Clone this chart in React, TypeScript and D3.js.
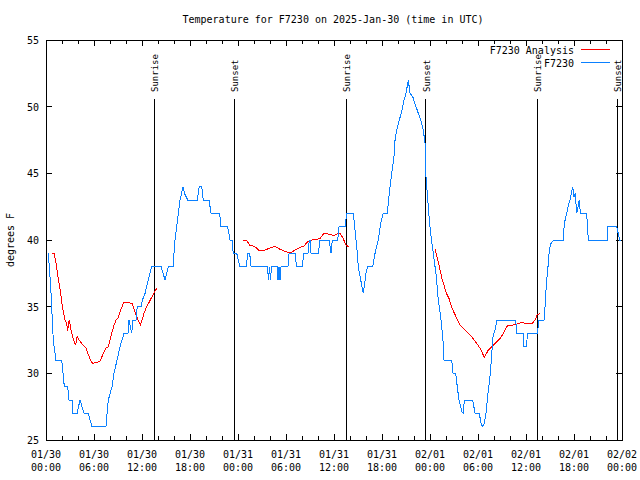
import React from "react";
import * as d3 from "d3";

// Hours since 2025-01-30 00:00 UTC
const obsHours = [0.29,0.41,0.59,0.71,0.91,1.13,1.19,1.96,2.13,2.29,2.71,2.88,3.25,3.34,3.88,4.25,4.75,5.29,5.5,5.75,7.5,7.63,7.79,8.25,8.5,8.88,9.25,9.75,10.25,10.38,10.54,10.71,10.88,11.25,11.41,11.88,12.06,12.38,12.79,13.21,14.38,14.88,15.29,15.88,16.0,16.13,16.34,16.54,16.75,17.13,17.31,17.71,18.91,19.16,19.46,19.66,20.38,20.63,21.71,21.88,22.71,23.0,23.25,23.41,23.84,24.25,25.09,25.16,25.46,25.63,27.69,27.81,27.94,28.06,28.19,28.88,29.0,29.13,29.25,29.38,30.25,30.38,31.13,31.31,32.0,32.25,32.75,32.91,33.0,33.13,34.04,34.25,35.41,35.63,35.79,36.46,36.63,37.38,37.59,38.41,38.84,39.04,39.34,39.66,40.0,40.21,40.84,41.13,41.54,41.84,42.16,42.66,42.91,43.21,43.5,43.63,43.84,44.16,44.46,44.75,45.0,45.29,45.5,45.84,46.25,46.54,46.84,47.16,47.38,47.46,47.5,47.66,47.79,47.91,48.13,48.41,48.63,48.84,48.96,49.13,49.34,49.5,49.66,49.75,50.71,50.88,51.21,51.46,51.63,51.84,52.0,52.16,52.29,53.34,53.63,54.16,54.38,54.54,54.79,55.0,55.25,55.46,55.63,55.75,55.88,56.13,56.38,58.71,58.84,59.66,59.75,60.09,60.16,61.41,61.63,62.25,62.38,62.5,62.63,62.79,62.91,63.13,63.5,64.66,64.79,65.09,65.29,65.5,65.71,65.84,66.0,66.16,66.34,66.66,66.79,67.59,67.66,67.79,70.16,70.25,71.34,71.71,71.88];
const obsTemps = [39,38,36.5,35,32.5,31.5,31,31,30,29,29,28,28,27,27,28,27,27,26.5,26,26,27,28,29,30,31,32,33,33,34,33.5,33,34,34,35,35,35.5,36,37,38,38,37,38,38,39,40,41,42,43,44,43.5,43,43,44,44,43,43,42,42,41,41,40,40,39,39,38,38,39,39,38,38,37,38,37,38,38,37,38,37,38,38,39,39,38,38,39,39,40,40,39,39,40,40,39,40,40,41,41,42,42,39.5,38,37,36,37.5,38,38,39,40,41.25,42,42,43.5,45,46.25,47.5,48.25,49,49.6,50.5,51,52,51,50.75,50,49.5,49,48.25,47.25,46,44.75,43.5,42.5,41.5,40.25,39,38,37,35.9,35.1,34.25,33.25,32.25,31,31,30,30,28.75,28,27.5,27.1,27,28,28,27,27,26.25,26,26.25,27,28.5,29.5,30.75,31.75,32.75,33.25,34,34,33,33,32,32,33,33,34,34,35,36.25,37.25,38.25,39.25,39.75,40,40,41.25,42,42.6,43,43.6,44,43.25,43.5,42,43,42,42,41.25,40,40,41,41,40,40];

// Analysis series; null marks a gap
const anaHours = [0.71,1.0,1.25,1.54,1.84,2.04,2.38,2.59,2.71,2.9,3.06,3.21,3.41,3.71,3.88,4.25,4.66,5.0,5.29,5.56,5.81,6.25,6.75,7.16,7.5,7.79,8.0,8.44,8.75,9.04,9.25,9.69,10.29,10.75,11.13,11.44,11.81,12.0,12.25,12.59,13.04,13.38,13.63,13.91,
  20,
  24.66,25.09,25.5,25.91,26.34,26.66,27.16,27.59,28.0,28.5,28.91,29.25,29.66,30.16,30.75,31.25,31.75,32.25,32.75,33.25,33.75,34.25,34.66,35.09,35.5,36.0,36.41,36.75,37.16,37.5,37.88,
  43,
  48.63,48.88,49.13,49.5,49.75,50.06,50.38,50.75,51.13,51.54,51.75,52.38,53.0,53.63,54.25,54.79,55.29,55.71,56.13,56.75,57.16,57.66,58.21,58.84,59.46,60.09,60.71,61.13,61.41,61.75];
const anaTemps = [39,39,38.25,37.1,36,35,34,33.75,33.2,34,33.5,33,32.6,32.1,32.75,32.4,32.1,31.9,31.4,31,30.75,30.8,30.9,31.5,31.9,32,32.5,33.5,34,34.2,34.6,35.3,35.3,35.25,34.6,34.1,33.65,34,34.5,35,35.5,35.9,36.2,36.4,
  null,
  40,39.95,39.6,39.55,39.4,39.2,39.2,39.3,39.4,39.5,39.45,39.3,39.2,39.1,39.1,39.3,39.45,39.55,39.9,40,40.05,40.1,40.45,40.5,40.4,40.35,40.45,40.5,40.1,39.6,39.5,
  null,
  39.3,38.75,38.1,37.1,36.6,36,35.6,34.9,34.4,33.9,33.6,33.25,32.9,32.4,31.9,31.2,31.75,32,32.25,32.6,33,33.55,33.6,33.7,33.8,33.75,33.7,34,34.4,34.5];

const sunLabels = ["Sunrise","Sunset","Sunrise","Sunset","Sunrise","Sunset"];
const sunHours = [13.54,23.54,37.54,47.46,61.41,71.41];

const yTicks = [25,30,35,40,45,50,55];
const xTickHours = [0,6,12,18,24,30,36,42,48,54,60,66,72];

const seriesNames = ["F7230 Analysis","F7230"];
const seriesColors = ["#ff0000","#0a80ff"];

const T0 = Date.UTC(2025,0,30);
const toDate = (h: number) => new Date(T0 + h*3600e3);

export default function App() {
  const W = 640, H = 480;
  const left = 46, right = 622, top = 40, bottom = 440;
  const x = d3.scaleUtc().domain([toDate(0), toDate(72)]).range([left, right]);
  const y = d3.scaleLinear().domain([25,55]).range([bottom, top]);
  const font = "'DejaVu Sans Mono', monospace";

  const obsData = obsHours.map((h,i)=>({d: toDate(h), t: obsTemps[i]}));
  const anaData = anaHours.map((h,i)=>({d: toDate(h), t: anaTemps[i]}));
  const line = d3.line<{d: Date, t: number | null}>()
    .defined(p => p.t !== null)
    .x(p => x(p.d))
    .y(p => y(p.t as number));

  const fmtDay = d3.utcFormat("%m/%d");
  const fmtTime = d3.utcFormat("%H:%M");
  const minorHours = d3.range(0, 73, 2);

  return (
    <svg width={W} height={H} style={{position:"absolute", left:0, top:0, background:"#fff"}} shapeRendering="crispEdges" fontFamily={font}>
      <rect x={0} y={0} width={W} height={H} fill="#fff"/>
      <text x={333} y={23} fontSize={10} textAnchor="middle">Temperature for F7230 on 2025-Jan-30 (time in UTC)</text>
      {/* y ticks */}
      {yTicks.map(v => (
        <g key={"y"+v}>
          <line x1={left} x2={left+6} y1={y(v)} y2={y(v)} stroke="#000"/>
          <line x1={right-6} x2={right} y1={y(v)} y2={y(v)} stroke="#000"/>
          <text x={39} y={y(v)+4} fontSize={10} textAnchor="end">{v}</text>
        </g>
      ))}
      {/* x ticks */}
      {minorHours.map(h => {
        const major = h % 6 === 0;
        const len = major ? 6 : 4;
        const xx = x(toDate(h));
        return (
          <g key={"x"+h}>
            <line x1={xx} x2={xx} y1={bottom} y2={bottom-len} stroke="#000"/>
            <line x1={xx} x2={xx} y1={top} y2={top+len} stroke="#000"/>
          </g>
        );
      })}
      {xTickHours.map(h => {
        const d = toDate(h);
        return (
          <g key={"xl"+h}>
            <text x={x(d)} y={458} fontSize={10} textAnchor="middle">{fmtDay(d)}</text>
            <text x={x(d)} y={471} fontSize={10} textAnchor="middle">{fmtTime(d)}</text>
          </g>
        );
      })}
      <text transform={`translate(14,240) rotate(-90)`} fontSize={10} textAnchor="middle">degrees F</text>
      {/* sun lines */}
      {sunHours.map((h,i) => {
        const xx = x(toDate(h));
        return (
          <g key={"s"+i}>
            <line x1={xx} x2={xx} y1={99} y2={bottom} stroke="#000"/>
            <text transform={`translate(${xx+4},92) rotate(-90)`} fontSize={9}>{sunLabels[i]}</text>
          </g>
        );
      })}
      {/* data */}
      <path d={line(anaData) || ""} fill="none" stroke={seriesColors[0]} strokeWidth={1}/>
      <path d={line(obsData) || ""} fill="none" stroke={seriesColors[1]} strokeWidth={1}/>
      {/* frame */}
      <rect x={left} y={top} width={right-left} height={bottom-top} fill="none" stroke="#000"/>
      {/* legend */}
      {seriesNames.map((n,i) => (
        <g key={"l"+i}>
          <text x={574} y={54+i*13} fontSize={10} textAnchor="end">{n}</text>
          <line x1={581} x2={610} y1={49.5+i*13} y2={49.5+i*13} stroke={seriesColors[i]}/>
        </g>
      ))}
    </svg>
  );
}
